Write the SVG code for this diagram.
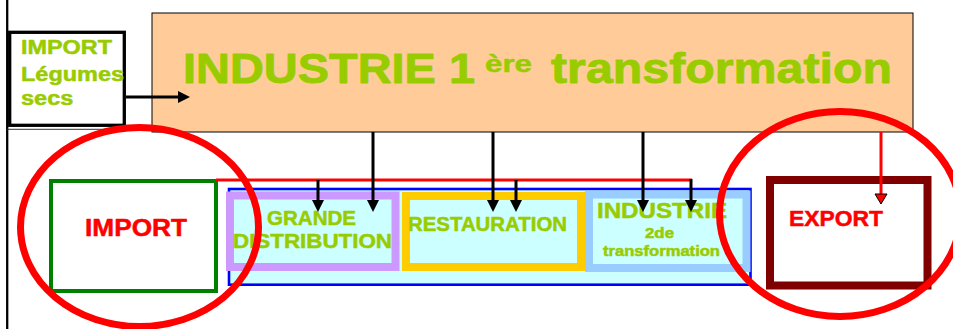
<svg xmlns="http://www.w3.org/2000/svg" width="953" height="329" viewBox="0 0 953 329">
<style>
text{font-family:"Liberation Sans",Arial,sans-serif;font-weight:bold;stroke-linejoin:round}
.g{fill:#99CC00;stroke:#99CC00;stroke-width:0.5}
.r{fill:#FF0000;stroke:#FF0000;stroke-width:0.5}
.big{stroke-width:0.9}
.blk{stroke:#000;stroke-width:3;fill:none}
.ring{fill:none;stroke:#FF0000;stroke-width:7}
</style>
<defs>
<marker id="ah" markerUnits="userSpaceOnUse" markerWidth="12" markerHeight="12" refX="6" refY="6" orient="auto" viewBox="0 0 12 12">
<path d="M0,0 L12,6 L0,12 z" fill="#000"/>
</marker>
<marker id="ahr" markerUnits="userSpaceOnUse" markerWidth="14" markerHeight="14" refX="5" refY="7" orient="auto" viewBox="0 0 14 14">
<path d="M1,1 L11,7 L1,13 z" fill="#FF0000" stroke="#000" stroke-width="1"/>
</marker>
</defs>
<rect width="953" height="329" fill="#fff"/>
<line x1="7.2" y1="0" x2="7.2" y2="329" stroke="#000" stroke-width="2.3"/>
<line x1="7" y1="129.3" x2="152" y2="129.3" stroke="#333" stroke-width="1"/>

<g id="industrie1">
<rect x="152" y="13" width="761" height="119" fill="#FFCC99" stroke="#000" stroke-width="1"/>
<text x="183" y="83" font-size="42" class="g big" textLength="292" lengthAdjust="spacingAndGlyphs">INDUSTRIE 1</text>
<text x="485" y="72" font-size="23" class="g" textLength="47" lengthAdjust="spacingAndGlyphs">ère</text>
<text x="551" y="83" font-size="42" class="g big" textLength="341" lengthAdjust="spacingAndGlyphs">transformation</text>
</g>

<g id="import-legumes">
<rect x="9.7" y="32.3" width="114.6" height="93" fill="#fff" stroke="#000" stroke-width="3.3"/>
<text x="21" y="54.3" font-size="20" class="g" textLength="91" lengthAdjust="spacingAndGlyphs">IMPORT</text>
<text x="21" y="80.5" font-size="20" class="g" textLength="103" lengthAdjust="spacingAndGlyphs">Légumes</text>
<text x="21" y="105" font-size="20" class="g" textLength="52.5" lengthAdjust="spacingAndGlyphs">secs</text>
</g>

<g id="import">
<rect x="51" y="181" width="165" height="110" fill="#fff" stroke="#008000" stroke-width="4"/>
<text x="85" y="236" font-size="24.7" class="r" textLength="102" lengthAdjust="spacingAndGlyphs">IMPORT</text>
</g>

<g id="aval">
<rect x="229" y="189" width="521.5" height="95.7" fill="#CCFFFF" stroke="#0000FF" stroke-width="2.6"/>
</g>

<g id="grande-distribution">
<rect x="230" y="195.5" width="165.5" height="71.5" fill="#CCFFFF" stroke="#CC99FF" stroke-width="8"/>
<text x="267" y="225" font-size="20" class="g" textLength="89" lengthAdjust="spacingAndGlyphs">GRANDE</text>
<text x="233" y="248" font-size="20" class="g" textLength="159" lengthAdjust="spacingAndGlyphs">DISTRIBUTION</text>
</g>

<g id="restauration">
<rect x="406" y="196" width="175" height="71" fill="#CCFFFF" stroke="#FFCC00" stroke-width="8"/>
<text x="408" y="231" font-size="20" class="g" textLength="159" lengthAdjust="spacingAndGlyphs">RESTAURATION</text>
</g>

<g id="industrie2">
<rect x="589" y="194.5" width="157.5" height="73.5" fill="#CCFFFF" stroke="#99CCFF" stroke-width="8"/>
<text x="597" y="218" font-size="22" class="g" textLength="130" lengthAdjust="spacingAndGlyphs">INDUSTRIE</text>
<text x="645" y="238" font-size="14" class="g" textLength="29" lengthAdjust="spacingAndGlyphs">2de</text>
<text x="603" y="256" font-size="15" class="g" textLength="117" lengthAdjust="spacingAndGlyphs">transformation</text>
</g>

<g id="export">
<rect x="770" y="180" width="157.5" height="105.5" fill="#fff" stroke="#800000" stroke-width="8"/>
<text x="789" y="226" font-size="22.5" class="r" textLength="94" lengthAdjust="spacingAndGlyphs">EXPORT</text>
</g>

<g id="connectors">
<path class="blk" d="M126,97 H184" marker-end="url(#ah)"/>
<path d="M216,180 H692" stroke="#FF0000" stroke-width="3" fill="none"/>
<path class="blk" d="M373,132 V206" marker-end="url(#ah)"/>
<path class="blk" d="M493,132 V206" marker-end="url(#ah)"/>
<path class="blk" d="M643,132 V206" marker-end="url(#ah)"/>
<path class="blk" d="M318,180 V206" marker-end="url(#ah)"/>
<path class="blk" d="M516,180 V206" marker-end="url(#ah)"/>
<path class="blk" d="M691,179 V206" marker-end="url(#ah)"/>
<path d="M881,132 V198" stroke="#FF0000" stroke-width="3" fill="none" marker-end="url(#ahr)"/>
</g>

<g id="highlights">
<ellipse class="ring" cx="139.5" cy="227" rx="119" ry="99.5"/>
<ellipse class="ring" cx="840" cy="214" rx="120.5" ry="102.5"/>
</g>
</svg>
